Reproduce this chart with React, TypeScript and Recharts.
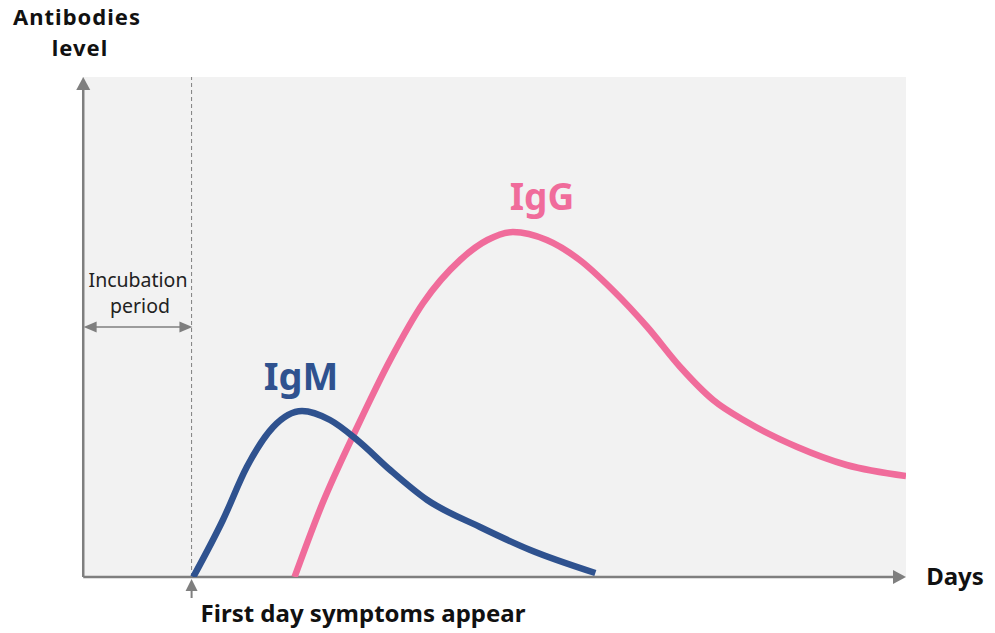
import React from "react";
import {
  LineChart,
  Line,
  XAxis,
  YAxis,
  CartesianGrid,
  ReferenceLine,
  ReferenceDot,
  Customized,
} from "recharts";

// x: relative days (0..100 span of the plot), y: relative antibody level (0..100)
const igmDays = [13.5, 17.1, 20.0, 23.2, 26.7, 30.1, 33.4, 37.4, 41.9, 48.3, 54.4, 62.3];
const igmLevel = [0, 11.4, 22, 30, 33.2, 31.4, 27.4, 21.4, 15.4, 10, 5.4, 0.8];

const iggDays = [25.8, 29.2, 33.4, 37.4, 41.4, 45.9, 49.2, 52.3, 56.4, 60.4, 64.4, 68.6, 72.6, 76.6, 80.7, 86.8, 92.8, 100];
const iggLevel = [0, 14.8, 30, 43.4, 54.8, 63.4, 67.4, 69, 67.4, 63.4, 57.4, 50, 42, 35.4, 31, 26, 22.4, 20.2];

const symptomDay = 13.3;
const incubationLevel = 50;

const igmData = igmDays.map((d, i) => ({ d, v: igmLevel[i] }));
const iggData = iggDays.map((d, i) => ({ d, v: iggLevel[i] }));

const GRAY = "#7f7f7f";
const FONT = "'Noto Sans', 'DejaVu Sans', sans-serif";

const upArrow = (p: any) => (
  <polygon points={`${p.cx},${p.cy} ${p.cx - 7},${p.cy + 13} ${p.cx + 7},${p.cy + 13}`} fill={GRAY} />
);
const rightArrow = (p: any) => (
  <polygon points={`${p.cx},${p.cy} ${p.cx - 13},${p.cy - 7} ${p.cx - 13},${p.cy + 7}`} fill={GRAY} />
);
const leftArrowSmall = (p: any) => (
  <polygon points={`${p.cx},${p.cy} ${p.cx + 13},${p.cy - 5.5} ${p.cx + 13},${p.cy + 5.5}`} fill={GRAY} />
);
const rightArrowSmall = (p: any) => (
  <polygon points={`${p.cx},${p.cy} ${p.cx - 13},${p.cy - 5.5} ${p.cx - 13},${p.cy + 5.5}`} fill={GRAY} />
);
const symptomArrow = (p: any) => (
  <g>
    <polygon points={`${p.cx},${p.cy + 2} ${p.cx - 6},${p.cy + 14} ${p.cx + 6},${p.cy + 14}`} fill={GRAY} />
    <line x1={p.cx} y1={p.cy + 13} x2={p.cx} y2={p.cy + 21} stroke={GRAY} strokeWidth={2} />
  </g>
);

const Texts = () => (
  <g fontFamily={FONT}>
    <text x={77} y={25} textAnchor="middle" fontSize={22} fontWeight="bold" letterSpacing={1} fill="#111">Antibodies</text>
    <text x={80} y={56} textAnchor="middle" fontSize={22} fontWeight="bold" letterSpacing={1} fill="#111">level</text>
    <text x={955} y={585} textAnchor="middle" fontSize={24} fontWeight="bold" fill="#111">Days</text>
    <text x={363} y={622} textAnchor="middle" fontSize={24} fontWeight="bold" fill="#111">First day symptoms appear</text>
    <text x={138} y={287} textAnchor="middle" fontSize={19.5} fill="#222">Incubation</text>
    <text x={140} y={313} textAnchor="middle" fontSize={19.5} fill="#222">period</text>
    <text x={301} y={390} textAnchor="middle" fontSize={38} fontWeight="bold" fill="#2f528f">IgM</text>
    <text x={542} y={210} textAnchor="middle" fontSize={37} fontWeight="bold" fill="#f06c9b">IgG</text>
  </g>
);

export default function App() {
  return (
    <div style={{ position: "absolute", left: 0, top: 0, width: 995, height: 633, background: "#fff" }}>
      <LineChart
        width={995}
        height={633}
        margin={{ top: 77, right: 89, bottom: 56, left: 82 }}
      >
        <CartesianGrid horizontal={false} vertical={false} fill="#f2f2f2" />
        <XAxis type="number" dataKey="d" domain={[0, 100]} hide allowDataOverflow />
        <YAxis type="number" domain={[0, 100]} hide allowDataOverflow />

        <ReferenceLine x={symptomDay} stroke={GRAY} strokeWidth={1} strokeDasharray="4 3" />

        <ReferenceLine segment={[{ x: 0.15, y: 0 }, { x: 0.15, y: 98 }]} stroke={GRAY} strokeWidth={2.5} />
        <ReferenceLine segment={[{ x: 0.15, y: 0 }, { x: 98.5, y: 0 }]} stroke={GRAY} strokeWidth={2.5} />
        <ReferenceDot x={0.15} y={100} r={0} shape={upArrow} ifOverflow="visible" />
        <ReferenceDot x={100} y={0} r={0} shape={rightArrow} ifOverflow="visible" />

        <ReferenceLine
          segment={[{ x: 1.5, y: incubationLevel }, { x: symptomDay - 1.2, y: incubationLevel }]}
          stroke={GRAY}
          strokeWidth={1.5}
        />
        <ReferenceDot x={0.2} y={incubationLevel} r={0} shape={leftArrowSmall} ifOverflow="visible" />
        <ReferenceDot x={symptomDay + 0.1} y={incubationLevel} r={0} shape={rightArrowSmall} ifOverflow="visible" />
        <ReferenceDot x={symptomDay} y={0} r={0} shape={symptomArrow} ifOverflow="visible" />

        <Line
          data={iggData}
          dataKey="v"
          type="monotone"
          stroke="#f06c9b"
          strokeWidth={6.5}
          dot={false}
          isAnimationActive={false}
        />
        <Line
          data={igmData}
          dataKey="v"
          type="monotone"
          stroke="#2f528f"
          strokeWidth={6.5}
          dot={false}
          isAnimationActive={false}
        />
        <Customized component={Texts} />
      </LineChart>
    </div>
  );
}
